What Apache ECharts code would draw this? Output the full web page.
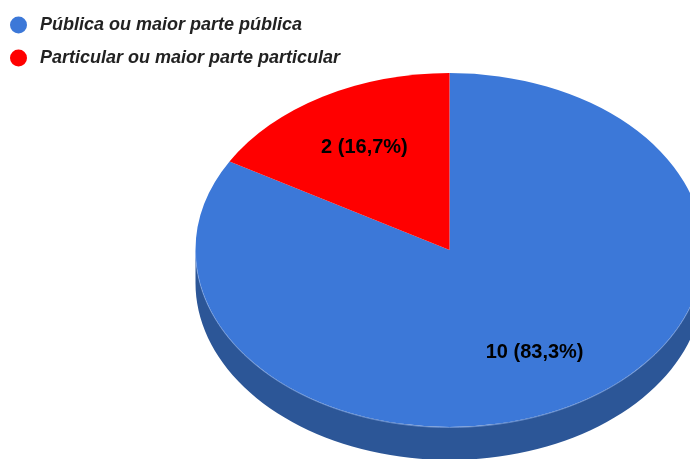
<!DOCTYPE html>
<html>
<head>
<meta charset="utf-8">
<script src="https://cdn.jsdelivr.net/npm/echarts@6/dist/echarts.min.js"></script>
<style>
  html, body { margin: 0; padding: 0; background: #fff; }
  #chart { width: 690px; height: 459px; }
</style>
</head>
<body>
<div id="chart"></div>
<script>
// Categories and counts
const categories = ['Pública ou maior parte pública', 'Particular ou maior parte particular'];
const values = [10, 2];
const topColors = ['#3c78d8', '#ff0000'];
const sideColors = ['#2c5697', '#a80000'];

// Tilted-disc layout (pixels)
const CX = 449.5, CY = 250, RX = 254, RY = 177, DEPTH = 33;
const LABEL_POS = 0.67;
const FONT = '"Liberation Sans", Arial, sans-serif';

const total = values.reduce((a, b) => a + b, 0);

function sliceAngles(i) {
  let before = 0;
  for (let k = 0; k < i; k++) before += values[k];
  const start = -Math.PI / 2 + 2 * Math.PI * before / total;
  const end = start + 2 * Math.PI * values[i] / total;
  return [start, end];
}

function fmtPct(v) {
  return (v / total * 100).toFixed(1).replace('.', ',');
}

function ellipsePt(t, dy) {
  return [CX + RX * Math.cos(t), CY + RY * Math.sin(t) + dy];
}

function makeRender(i) {
  return function (params, api) {
    const [start, end] = sliceAngles(i);
    const children = [];

    // visible front wall of the disc (lower half of the rim)
    for (let k = -1; k <= 2; k++) {
      const a = Math.max(start, 2 * Math.PI * k);
      const b = Math.min(end, 2 * Math.PI * k + Math.PI);
      if (a < b) {
        const pts = [];
        const n = 80;
        for (let s = 0; s <= n; s++) pts.push(ellipsePt(a + (b - a) * s / n, 0));
        for (let s = n; s >= 0; s--) pts.push(ellipsePt(a + (b - a) * s / n, DEPTH));
        children.push({
          type: 'polygon',
          shape: { points: pts },
          style: { fill: sideColors[i] },
          z2: 0
        });
        // light rim along the top edge
        const rim = [];
        for (let s = 0; s <= n; s++) rim.push(ellipsePt(a + (b - a) * s / n, 0.5));
        children.push({
          type: 'polyline',
          shape: { points: rim },
          style: { stroke: 'rgba(140,175,235,0.6)', lineWidth: 1, fill: null },
          z2: 12
        });
      }
    }

    // top face: circular sector squashed into an ellipse
    children.push({
      type: 'group',
      x: CX,
      y: CY,
      scaleY: RY / RX,
      children: [{
        type: 'sector',
        shape: { cx: 0, cy: 0, r: RX, r0: 0, startAngle: start, endAngle: end, clockwise: true },
        style: { fill: topColors[i] },
        z2: 10
      }]
    });

    // value label
    const mid = (start + end) / 2;
    children.push({
      type: 'text',
      x: CX + LABEL_POS * RX * Math.cos(mid),
      y: CY + LABEL_POS * RY * Math.sin(mid),
      style: {
        text: values[i] + ' (' + fmtPct(values[i]) + '%)',
        font: 'bold 20px ' + FONT,
        fill: '#000',
        align: 'center',
        verticalAlign: 'middle'
      },
      z2: 20
    });

    return { type: 'group', children };
  };
}

const chart = echarts.init(document.getElementById('chart'), null, { renderer: 'canvas' });
chart.setOption({
  animation: false,
  backgroundColor: '#fff',
  legend: {
    orient: 'vertical',
    left: 5,
    top: 11,
    icon: 'circle',
    itemWidth: 17,
    itemHeight: 17,
    itemGap: 15,
    selectedMode: false,
    data: categories,
    textStyle: {
      fontFamily: FONT,
      fontStyle: 'italic',
      fontWeight: 'bold',
      fontSize: 18,
      lineHeight: 18,
      color: '#222',
      padding: [0, 0, 0, 8]
    }
  },
  series: categories.map((name, i) => ({
    type: 'custom',
    name: name,
    coordinateSystem: 'none',
    itemStyle: { color: topColors[i] },
    data: [[values[i]]],
    renderItem: makeRender(i)
  }))
});
</script>
</body>
</html>
